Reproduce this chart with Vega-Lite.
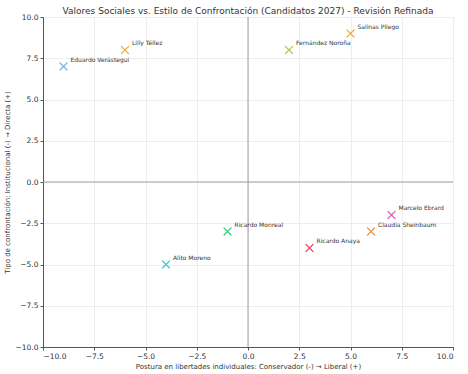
{
  "$schema": "https://vega.github.io/schema/vega-lite/v6.json",
  "autosize": "none",
  "width": 410,
  "height": 330,
  "padding": {"left": 43, "top": 17, "right": 15, "bottom": 27},
  "config": {
    "font": "DejaVu Sans",
    "view": {"stroke": null},
    "axis": {
      "labelFont": "DejaVu Sans",
      "titleFont": "DejaVu Sans",
      "labelFontSize": 7.5,
      "labelColor": "#333333",
      "titleFontSize": 7,
      "titleFontWeight": "normal",
      "titleColor": "#333333",
      "gridColor": "#e8e8e8",
      "gridWidth": 0.8,
      "domainColor": "#555555",
      "tickColor": "#555555",
      "tickSize": 3
    }
  },
  "title": {
    "text": "Valores Sociales vs. Estilo de Confrontación (Candidatos 2027) - Revisión Refinada",
    "fontSize": 9,
    "fontWeight": "normal",
    "font": "DejaVu Sans",
    "color": "#333333",
    "offset": -3
  },
  "data": {
    "values": [
      {"name": "Eduardo Verástegui", "x": -9, "y": 7},
      {"name": "Lilly Téllez", "x": -6, "y": 8},
      {"name": "Fernández Noroña", "x": 2, "y": 8},
      {"name": "Salinas Pliego", "x": 5, "y": 9},
      {"name": "Ricardo Monreal", "x": -1, "y": -3},
      {"name": "Alito Moreno", "x": -4, "y": -5},
      {"name": "Ricardo Anaya", "x": 3, "y": -4},
      {"name": "Claudia Sheinbaum", "x": 6, "y": -3},
      {"name": "Marcelo Ebrard", "x": 7, "y": -2}
    ]
  },
  "layer": [
    {
      "data": {"values": [{"v": 0}]},
      "mark": {"type": "rule", "color": "#a0a0a0", "strokeWidth": 1},
      "encoding": {"x": {"field": "v", "type": "quantitative", "scale": {"domain": [-10, 10]}}}
    },
    {
      "data": {"values": [{"v": 0}]},
      "mark": {"type": "rule", "color": "#a0a0a0", "strokeWidth": 1},
      "encoding": {"y": {"field": "v", "type": "quantitative", "scale": {"domain": [-10, 10]}}}
    },
    {
      "mark": {"type": "point", "shape": "M-1,-1L1,1M1,-1L-1,1", "filled": false, "strokeWidth": 1.3, "size": 60, "opacity": 1},
      "encoding": {
        "x": {
          "field": "x", "type": "quantitative",
          "scale": {"domain": [-10, 10], "nice": false},
          "axis": {"values": [-10, -7.5, -5, -2.5, 0, 2.5, 5, 7.5, 10], "format": ".1f", "title": "Postura en libertades individuales: Conservador (-) → Liberal (+)", "titlePadding": 3, "labelPadding": 2}
        },
        "y": {
          "field": "y", "type": "quantitative",
          "scale": {"domain": [-10, 10], "nice": false},
          "axis": {"values": [-10, -7.5, -5, -2.5, 0, 2.5, 5, 7.5, 10], "format": ".1f", "title": "Tipo de confrontación: Institucional (-) → Directa (+)", "titlePadding": 5, "labelPadding": 2}
        },
        "color": {
          "field": "name", "type": "nominal", "legend": null,
          "scale": {
            "domain": ["Eduardo Verástegui", "Lilly Téllez", "Fernández Noroña", "Salinas Pliego", "Ricardo Monreal", "Alito Moreno", "Ricardo Anaya", "Claudia Sheinbaum", "Marcelo Ebrard"],
            "range": ["#4fb8ee", "#f2a73b", "#9ccc3a", "#f5a623", "#2ec27a", "#2ec8c0", "#e5405e", "#ef8a3a", "#e052c4"]
          }
        }
      }
    },
    {
      "mark": {"type": "text", "align": "left", "baseline": "middle", "dx": 7, "dy": -7, "fontSize": 6, "color": "#333333", "font": "DejaVu Sans"},
      "encoding": {
        "x": {"field": "x", "type": "quantitative"},
        "y": {"field": "y", "type": "quantitative"},
        "text": {"field": "name"}
      }
    }
  ]
}
